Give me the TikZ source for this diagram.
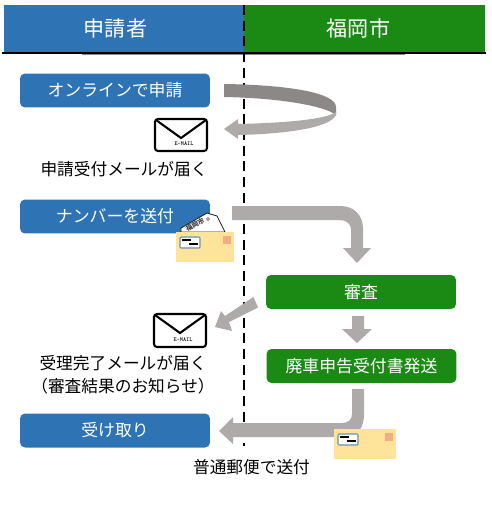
\documentclass[tikz,border=0pt]{standalone}
\usepackage{fontspec}
\setmainfont{Noto Sans CJK JP}
\usetikzlibrary{positioning}
\definecolor{applyblue}{HTML}{2E74B5}
\definecolor{cityg}{HTML}{1A8A14}
\definecolor{arrowgray}{HTML}{AEAAAA}
\definecolor{arrowdark}{HTML}{8C8888}
\definecolor{postyellow}{HTML}{FEE49B}
\definecolor{stampred}{HTML}{F4AC86}
\definecolor{windowblue}{HTML}{6D8FAE}
\tikzset{
  header/.style={inner sep=0pt, text=white, font=\fontsize{12}{12}\selectfont},
  stepbox/.style={rounded corners=0.1cm, minimum width=3.8cm, minimum height=0.68cm, inner sep=0pt, text=white, font=\fontsize{9.6}{10}\selectfont},
  caption/.style={inner sep=0pt, align=center, font=\fontsize{9.5}{13}\selectfont},
  blockarrow/.style={fill=arrowgray, draw=none}
}
\begin{document}
\begin{tikzpicture}[x=0.02cm, y=-0.02cm]
  \useasboundingbox (0,0) rectangle (492,507);
  % Header
  \fill[applyblue] (4,5) rectangle (244,52);
  \fill[cityg] (244,5) rectangle (485,52);
  \node[header] (applicant) at (115.5,28.5) {申請者};
  \node[header] (city) at (358.5,28.5) {福岡市};
  \draw[line width=0.8pt] (2,53) -- (486,53);
  \draw[arrowdark, line width=0.5pt] (82,54) -- (405,54);
  % Lane border
  \draw[line width=1.2pt, dash pattern=on 5.7pt off 3.2pt] (244,5) -- (244,446);

  % Steps
  \node[stepbox, fill=applyblue] (online) at (115,90.5) {オンラインで申請};
  \node[stepbox, fill=applyblue] (number) at (115,216.5) {ナンバーを送付};
  \node[stepbox, fill=cityg] (review) at (361,292) {審査};
  \node[stepbox, fill=cityg] (issue) at (361.5,366) {廃車申告受付書発送};
  \node[stepbox, fill=applyblue] (receive) at (115,430.5) {受け取り};

  % Captions
  \node[caption] (mail1) at (124,169) {申請受付メールが届く};
  \node[caption] (mail2) at (123,374.5) {受理完了メールが届く\\（審査結果のお知らせ）};
  \node[caption] (post) at (251.5,467) {普通郵便で送付};

  % Loop arrow
  \fill[arrowdark] (224,84) .. controls (290,85) and (336,93) .. (336,107) -- (336,115)
    .. controls (325,106) and (280,98) .. (224,97) -- cycle;
  \fill[arrowgray] (336,112) -- (336,115) .. controls (330,128) and (285,134) .. (238,135)
    -- (238,139) -- (224,129) -- (238,119) -- (238,124) .. controls (280,123) and (325,120) .. (336,112) -- cycle;

  % Arrow to review
  \fill[blockarrow] (232,206) -- (340,206) .. controls (354,206) and (363,215) .. (363,229) -- (363,248)
    -- (371,248) -- (357,263) -- (343,248) -- (351,248) -- (351,229)
    .. controls (351,224) and (346,220) .. (340,220) -- (232,220) -- cycle;
  % Arrow to mail
  \fill[blockarrow] (253.5,297) -- (258,307.5) -- (229,322) -- (232,331) -- (215,327) -- (221,311) -- (225,316) -- cycle;
  % Arrow to issue
  \fill[blockarrow] (352,316) -- (364,316) -- (364,329) -- (372,329) -- (357,343) -- (342,329) -- (352,329) -- cycle;
  % Arrow to receive
  \fill[blockarrow] (352,389) -- (364,389) -- (364,415) .. controls (364,428) and (357,437) .. (345,437)
    -- (233,437) -- (233,444) -- (219,431) -- (233,417) -- (233,423) -- (342,423)
    .. controls (348,423) and (352,420) .. (352,414) -- cycle;

  % Mail icons
  \foreach \mx/\my/\mh in {155/119/32, 154/314/33} {
    \draw[line width=1.2pt, rounded corners=0.06cm] (\mx,\my) rectangle ++(52,\mh);
    \draw[line width=1.2pt] (\mx+1,\my+1) -- (\mx+26,\my+19) -- (\mx+51,\my+1);
    \node[inner sep=0pt, font=\ttfamily\bfseries\fontsize{3.4}{3}\selectfont] at (\mx+29,\my+\mh-7) {E-MAIL};
  }

  % Number plate in envelope
  \filldraw[fill=white, draw=black!85, line width=0.5pt] (181,228) -- (207,213) -- (217,216) -- (225,232) -- (181,232) -- cycle;
  \node[inner sep=0pt, rotate=28, text=black!75, font=\bfseries\fontsize{3.8}{4}\selectfont] at (195,224.5) {福岡市};
  \draw[black!70, line width=0.3pt] (208,219) circle (1.6);
  \fill[black!75] (216,232) arc (0:180:2) -- cycle;

  % Envelopes
  \foreach \ex/\ey/\ew/\eh in {176/232/58/30, 334/429/62/30} {
    \fill[postyellow] (\ex,\ey) rectangle ++(\ew,\eh);
    \fill[stampred] (\ex+\ew-11,\ey+4) rectangle ++(7.5,7.5);
    \draw[windowblue, fill=white, line width=0.6pt, rounded corners=0.02cm] (\ex+4,\ey+5) rectangle ++(20,11);
    \draw[line width=0.6pt] (\ex+6,\ey+8) -- (\ex+15,\ey+8);
    \draw[line width=0.6pt] (\ex+13,\ey+12) -- (\ex+22,\ey+12);
  }
\end{tikzpicture}
\end{document}
